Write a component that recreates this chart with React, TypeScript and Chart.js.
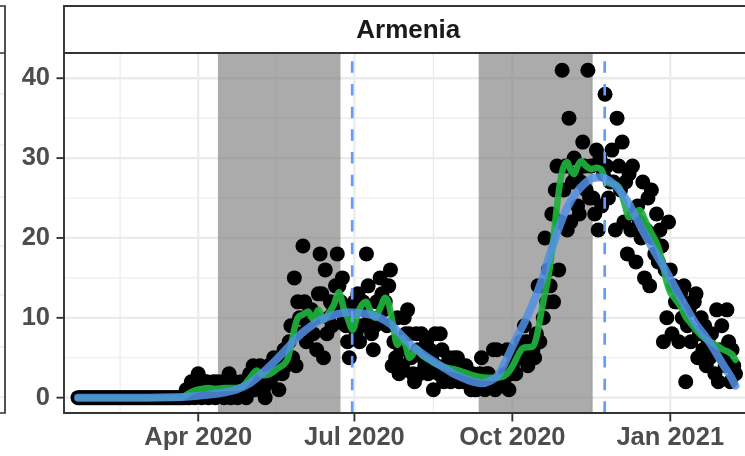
import { useEffect, useRef } from "react";
import { Chart, registerables } from "chart.js";

Chart.register(...registerables);

// ---- data (x = days since START_DATE) ----
const START_DATE = "2020-01-22";
const FACET_LABEL = "Armenia";

const X_TICK_DAYS = [70, 161, 253, 345];
const X_TICK_LABELS = ["Apr 2020", "Jul 2020", "Oct 2020", "Jan 2021"];
const X_MINOR_DAYS = [24.5, 115.5, 207, 299, 390.5];
const Y_TICKS = [0, 10, 20, 30, 40];
const Y_MINOR = [5, 15, 25, 35];
const X_LIMITS = [-8.18, 392.9];
const Y_LIMITS = [-1.92, 43.16];

// shaded periods [startDay, endDay]
const SHADE_START = [81.5, 233.4];
const SHADE_END = [152.9, 299.8];
// dashed reference days
const DASHED_DAYS = [159.7, 306.8];

const DAILY_DEATHS = [
  0, 0, 0, 0, 0, 0, 0, 0, 0, 0,
  0, 0, 0, 0, 0, 0, 0, 0, 0, 0,
  0, 0, 0, 0, 0, 0, 0, 0, 0, 0,
  0, 0, 0, 0, 0, 0, 0, 0, 0, 0,
  0, 0, 0, 0, 0, 0, 0, 0, 0, 0,
  0, 0, 0, 0, 0, 0, 0, 0, 0, 0,
  0, 0, 0, 1, 0, 0, 2, 1, 0, 1,
  3, 1, 0, 1, 2, 2, 0, 1, 1, 2,
  0, 2, 1, 1, 2, 0, 1, 1, 3, 0,
  1, 2, 1, 0, 1, 2, 1, 2, 0, 1,
  3, 2, 4, 1, 3, 2, 4, 3, 1, 0,
  3, 4, 2, 3, 5, 3, 4, 1, 4, 3,
  6, 4, 5, 7, 9, 5, 15, 4, 12, 10,
  8, 19, 12, 7, 9, 11, 11, 8, 10, 6,
  13, 18, 13, 5, 16, 8, 10, 12, 9, 11,
  14, 18, 14, 12, 15, 10, 9, 7, 5, 11,
  9, 12, 8, 13, 7, 9, 12, 11, 18, 14,
  10, 8, 6, 9, 12, 10, 15, 13, 11, 12,
  9, 14, 16, 4, 7, 5, 10, 3, 6, 4,
  10, 8, 11, 8, 5, 3, 2, 8, 6, 3,
  8, 5, 4, 7, 3, 6, 5, 1, 8, 4,
  3, 8, 6, 2, 4, 3, 5, 2, 3, 5,
  4, 5, 2, 3, 4, 2, 4, 3, 2, 1,
  3, 1, 1, 2, 3, 5, 2, 1, 3, 3,
  2, 2, 6, 1, 6, 2, 2, 2, 2, 3,
  6, 1, 3, 4, 5, 3, 5, 6, 7, 5,
  9, 7, 4, 5, 6, 6, 5, 8, 14, 7,
  14, 10, 20, 12, 16, 14, 23, 12, 26, 29,
  16, 22, 41, 26, 29, 21, 35, 22, 27, 30,
  28, 24, 23, 27, 32, 29, 26, 41, 25, 29,
  25, 23, 31, 21, 30, 24, 28, 38, 29, 25,
  27, 31, 27, 21, 35, 29, 26, 32, 22, 27,
  18, 28, 21, 29, 23, 17, 24, 22, 20, 27,
  15, 21, 25, 14, 26, 20, 18, 23, 17, 21,
  19, 7, 16, 10, 22, 16, 8, 14, 12, 12,
  7, 13, 10, 14, 2, 9, 11, 7, 12, 12,
  13, 5, 8, 10, 6, 9, 4, 7, 5, 8,
  6, 3, 11, 2, 6, 9, 5, 4, 11, 7,
  2, 6, 4, 3,
];

// 7-day average line
const AVG_DAYS = [
  0, 60, 62, 65, 68, 72, 76, 80, 85, 90, 95, 100, 104, 108, 112, 116, 120, 122, 124, 126,
  128, 131, 134, 137, 140, 143, 146, 149, 152, 155, 157, 160, 163, 166, 168, 170, 173, 176, 179, 181,
  183, 186, 189, 191, 193, 195, 197, 200, 204, 207, 212, 216, 220, 226, 230, 234, 238, 242, 247, 250,
  253, 255, 257, 259, 262, 265, 267, 269, 271, 273, 275, 277, 279, 281, 283, 285, 287, 289, 291, 293,
  296, 299, 302, 305, 308, 311, 315, 318, 321, 324, 327, 331, 334, 337, 340, 343, 345, 347, 351, 354,
  357, 360, 363, 366, 370, 373, 376, 379, 381, 383,
];
const AVG_VALUES = [
  0, 0, 0.2, 0.6, 0.9, 1.1, 1.2, 1.1, 1.2, 1.2, 1.3, 2.4, 3.4, 2.8, 3.0, 3.6, 4.2, 4.8, 6.5, 8.6,
  10.0, 10.4, 10.8, 9.8, 11.0, 9.7, 10.6, 11.6, 13.2, 11.0, 10.0, 8.5, 10.6, 11.8, 12.0, 11.0, 10.0, 11.2, 12.5, 11.8,
  9.7, 6.6, 7.5, 6.4, 5.0, 5.4, 6.2, 5.4, 4.8, 4.4, 3.9, 3.7, 3.5, 3.1, 2.8, 2.6, 2.5, 2.5, 2.6, 3.0,
  3.9, 4.75, 5.6, 6.2, 6.3, 6.4, 7.5, 9.7, 12.0, 14.0, 16.5, 20.0, 24.0, 27.2, 29.0, 29.5, 28.5, 28.0, 29.0, 29.6,
  29.0, 28.6, 28.8, 28.5, 27.0, 26.8, 26.4, 24.5, 22.6, 22.8, 23.5, 21.9, 20.6, 19.4, 17.3, 14.4, 13.2, 12.6, 11.4, 10.1,
  9.3, 8.5, 7.8, 7.3, 6.8, 6.4, 6.0, 5.7, 5.4, 4.75,
];

// smoothed trend line
const SMOOTH_DAYS = [
  0, 20, 40, 55, 65, 75, 85, 92, 100, 106, 112, 118, 124, 130, 136, 142, 150, 157, 164, 170,
  176, 182, 188, 194, 200, 206, 212, 218, 224, 230, 235, 240, 245, 250, 255, 260, 265, 270, 275, 280,
  285, 290, 295, 300, 305, 310, 315, 320, 325, 330, 335, 340, 345, 350, 355, 360, 365, 370, 375, 380, 383,
];
const SMOOTH_VALUES = [
  0, 0, 0, 0.05, 0.15, 0.35, 0.65, 1.0, 1.8, 2.8, 4.0, 5.3, 6.7, 8.0, 9.0, 9.8, 10.4, 10.7, 10.6, 10.4,
  10.0, 9.2, 7.9, 6.6, 5.6, 4.7, 3.9, 3.1, 2.5, 2.0, 1.8, 2.1, 2.9, 5.0, 7.3, 9.4, 11.8, 14.6, 18.0, 21.2,
  23.8, 25.6, 26.8, 27.5, 27.6, 27.1, 26.1, 24.6, 22.6, 20.5, 18.6, 16.8, 14.9, 12.9, 11.0, 9.2, 7.8, 6.2, 4.4, 2.7, 1.5,
];

// ---- styling ----
const FONT = "'Liberation Sans', Arial, Helvetica, sans-serif";
const AXIS_TEXT = "#4D4D4D";
const DARK = "#333333";
const GRID = "#EBEBEB";

const panelPlugin = {
  id: "panelDecor",
  beforeDatasetsDraw(chart: any) {
    const { ctx, chartArea, scales } = chart;
    const { left, right, top, bottom } = chartArea;
    const xs = scales.x;
    const ys = scales.y;
    ctx.save();
    ctx.beginPath();
    ctx.rect(left, top, right - left, bottom - top);
    ctx.clip();
    ctx.strokeStyle = GRID;
    // minor grid
    ctx.lineWidth = 1.2;
    for (const v of Y_MINOR) {
      const p = ys.getPixelForValue(v);
      ctx.beginPath();
      ctx.moveTo(left, p);
      ctx.lineTo(right, p);
      ctx.stroke();
    }
    for (const d of X_MINOR_DAYS) {
      const p = xs.getPixelForValue(d);
      ctx.beginPath();
      ctx.moveTo(p, top);
      ctx.lineTo(p, bottom);
      ctx.stroke();
    }
    // major grid
    ctx.lineWidth = 2.3;
    for (const v of Y_TICKS) {
      const p = ys.getPixelForValue(v);
      ctx.beginPath();
      ctx.moveTo(left, p);
      ctx.lineTo(right, p);
      ctx.stroke();
    }
    for (const d of X_TICK_DAYS) {
      const p = xs.getPixelForValue(d);
      ctx.beginPath();
      ctx.moveTo(p, top);
      ctx.lineTo(p, bottom);
      ctx.stroke();
    }
    // shaded periods
    ctx.fillStyle = "rgba(127,127,127,0.66)";
    SHADE_START.forEach((s, i) => {
      const a = xs.getPixelForValue(s);
      const b = xs.getPixelForValue(SHADE_END[i]);
      ctx.fillRect(a, top, b - a, bottom - top);
    });
    ctx.restore();
  },
  afterDatasetsDraw(chart: any) {
    const { ctx, chartArea, scales } = chart;
    const { left, right, top, bottom } = chartArea;
    const xs = scales.x;
    const ys = scales.y;
    const W = chart.width;

    // dashed reference lines
    ctx.save();
    ctx.beginPath();
    ctx.rect(left, top, right - left, bottom - top);
    ctx.clip();
    ctx.strokeStyle = "#619CFF";
    ctx.lineWidth = 2.7;
    ctx.setLineDash([11.5, 11.17]);
    ctx.lineDashOffset = 14.37;
    for (const d of DASHED_DAYS) {
      const p = xs.getPixelForValue(d);
      ctx.beginPath();
      ctx.moveTo(p, top);
      ctx.lineTo(p, bottom);
      ctx.stroke();
    }
    ctx.restore();

    ctx.save();
    ctx.strokeStyle = DARK;
    ctx.lineWidth = 1.9;
    // axis lines
    ctx.beginPath();
    ctx.moveTo(left, top);
    ctx.lineTo(left, bottom);
    ctx.lineTo(W + 5, bottom);
    ctx.stroke();
    // ticks
    for (const v of Y_TICKS) {
      const p = ys.getPixelForValue(v);
      ctx.beginPath();
      ctx.moveTo(left - 7.5, p);
      ctx.lineTo(left, p);
      ctx.stroke();
    }
    for (const d of X_TICK_DAYS) {
      const p = xs.getPixelForValue(d);
      ctx.beginPath();
      ctx.moveTo(p, bottom);
      ctx.lineTo(p, bottom + 8.5);
      ctx.stroke();
    }

    // strip
    const stripTop = 6;
    ctx.fillStyle = "#FFFFFF";
    ctx.fillRect(left, stripTop, W + 5 - left, top - stripTop);
    ctx.beginPath();
    ctx.moveTo(W + 5, stripTop);
    ctx.lineTo(left, stripTop);
    ctx.lineTo(left, top);
    ctx.moveTo(left, top);
    ctx.lineTo(W + 5, top);
    ctx.stroke();
    ctx.fillStyle = "#1A1A1A";
    ctx.font = `bold 26px ${FONT}`;
    ctx.textAlign = "center";
    ctx.textBaseline = "middle";
    ctx.fillText(FACET_LABEL, (left + right) / 2, (stripTop + top) / 2 + 1);

    // neighbouring panel remnant on the left
    ctx.strokeStyle = GRID;
    ctx.lineWidth = 1.5;
    for (const gy of [94, 145, 197, 246, 295, 347, 397]) {
      ctx.beginPath();
      ctx.moveTo(0, gy);
      ctx.lineTo(4, gy);
      ctx.stroke();
    }
    ctx.strokeStyle = DARK;
    ctx.lineWidth = 1.7;
    ctx.beginPath();
    ctx.moveTo(0, stripTop);
    ctx.lineTo(5, stripTop);
    ctx.lineTo(5, bottom);
    ctx.lineTo(0, bottom);
    ctx.moveTo(0, top);
    ctx.lineTo(5, top);
    ctx.stroke();
    ctx.restore();
  },
};

export default function App() {
  const ref = useRef<HTMLCanvasElement>(null);
  useEffect(() => {
    const canvas = ref.current;
    if (!canvas) return;
    const chart = new Chart(canvas, {
      type: "line",
      data: {
        datasets: [
          {
            label: "trend",
            data: SMOOTH_DAYS.map((d, i) => ({ x: d, y: SMOOTH_VALUES[i] })),
            borderColor: "rgba(80,145,228,0.85)",
            borderWidth: 8,
            pointRadius: 0,
            cubicInterpolationMode: "monotone",
            borderCapStyle: "round",
            order: 0,
          },
          {
            label: "7-day average",
            data: AVG_DAYS.map((d, i) => ({ x: d, y: AVG_VALUES[i] })),
            borderColor: "rgba(30,178,62,0.92)",
            borderWidth: 6.5,
            pointRadius: 0,
            cubicInterpolationMode: "monotone",
            borderCapStyle: "round",
            order: 1,
          },
          {
            label: "daily deaths",
            data: DAILY_DEATHS.map((v, i) => ({ x: i, y: v })),
            showLine: false,
            pointRadius: 7.5,
            pointBackgroundColor: "#000000",
            pointBorderWidth: 0,
            borderColor: "#000000",
            order: 2,
          },
        ],
      } as any,
      options: {
        animation: false,
        responsive: false,
        devicePixelRatio: 1,
        events: [],
        layout: { padding: { top: 53, right: 7, left: 0, bottom: 0 } },
        plugins: { legend: { display: false }, tooltip: { enabled: false } },
        scales: {
          x: {
            type: "linear",
            min: X_LIMITS[0],
            max: X_LIMITS[1],
            grid: { display: false, drawTicks: false },
            border: { display: false },
            afterFit: (s: any) => {
              s.height = 43;
            },
            afterBuildTicks: (s: any) => {
              s.ticks = X_TICK_DAYS.map((v) => ({ value: v }));
            },
            ticks: {
              autoSkip: false,
              maxRotation: 0,
              minRotation: 0,
              padding: 10,
              color: AXIS_TEXT,
              font: { family: FONT, size: 25.5, weight: "bold" },
              callback: (v: any) => {
                const i = X_TICK_DAYS.indexOf(Number(v));
                return i >= 0 ? X_TICK_LABELS[i] : "";
              },
            },
          },
          y: {
            type: "linear",
            min: Y_LIMITS[0],
            max: Y_LIMITS[1],
            grid: { display: false, drawTicks: false },
            border: { display: false },
            afterFit: (s: any) => {
              s.width = 64;
            },
            afterBuildTicks: (s: any) => {
              s.ticks = Y_TICKS.map((v) => ({ value: v }));
            },
            ticks: {
              padding: 14,
              color: AXIS_TEXT,
              font: { family: FONT, size: 25.5, weight: "bold" },
              callback: (v: any) => String(v),
            },
          },
        },
      } as any,
      plugins: [panelPlugin],
    });
    return () => chart.destroy();
  }, []);

  return (
    <div
      style={{
        position: "fixed",
        left: 0,
        top: 0,
        width: 745,
        height: 456,
        overflow: "hidden",
        background: "#FFFFFF",
      }}
      data-start={START_DATE}
    >
      <canvas ref={ref} width={760} height={456} style={{ display: "block" }} />
    </div>
  );
}
